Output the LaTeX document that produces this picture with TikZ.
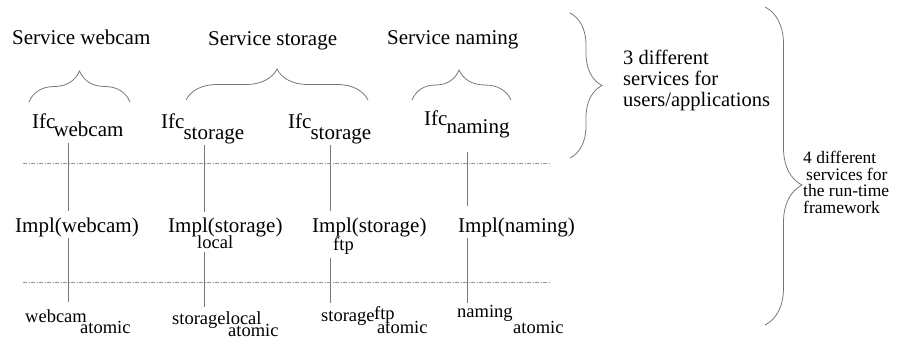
\documentclass[tikz,border=0pt]{standalone}
\usepackage{fontspec}
\setmainfont{Liberation Serif}
\usetikzlibrary{decorations.pathreplacing}
\definecolor{linegray}{RGB}{120,120,120}
\definecolor{dashgray}{RGB}{150,150,150}
\tikzset{
  lbl/.style={anchor=base west, inner sep=0pt, text=black, font=\fontsize{21}{25}\selectfont},
  small/.style={anchor=base west, inner sep=0pt, text=black, font=\fontsize{18.5}{22}\selectfont},
  side/.style={anchor=base west, inner sep=0pt, text=black, align=left},
  vline/.style={draw=linegray, line width=0.8pt},
  sep/.style={draw=dashgray, line width=0.8pt, dash pattern=on 4pt off 1.5pt on 1pt off 1.5pt},
  brc/.style={draw=linegray, line width=0.8pt, decorate, decoration={brace, amplitude=#1}},
}
\begin{document}
\begin{tikzpicture}[x=1pt, y=-1pt]
\useasboundingbox (0,0) rectangle (917,341);
% service titles
\node[lbl] (sW) at (12,44) {Service webcam};
\node[lbl] (sS) at (208,45) {Service storage};
\node[lbl] (sN) at (387,44) {Service naming};
% small braces
\draw[brc=31pt] (29,102) -- (130,102);
\draw[brc=31pt] (186,100) -- (368,100);
\draw[brc=30pt, decoration={aspect=0.475}] (412,100) -- (511,100);
% interfaces
\node[lbl] (ifcW) at (32,128) {Ifc\kern-2pt\lower8pt\hbox{webcam}};
\node[lbl] (ifcS1) at (161,128) {Ifc\kern-1pt\lower11pt\hbox{storage}};
\node[lbl] (ifcS2) at (288,128) {Ifc\kern-1pt\lower11pt\hbox{storage}};
\node[lbl] (ifcN) at (424,125) {Ifc\kern-1pt\lower8pt\hbox{naming}};
% separators
\coordinate (d1a) at (23,163); \coordinate (d1b) at (550,163);
\coordinate (d2a) at (23,282); \coordinate (d2b) at (550,282);
\draw[sep] (d1a) -- (d1b);
\draw[sep] (d2a) -- (d2b);
% implementations
\node[lbl] (implW) at (15,232) {Impl(webcam)};
\node[lbl] (implS1) at (168,232) {Impl(storage)};
\node[small] (loc) at (197,248) {local};
\node[lbl] (implS2) at (312,232) {Impl(storage)};
\node[small] (ftp) at (333,250) {ftp};
\node[lbl] (implN) at (458,232) {Impl(naming)};
% atomic
\node[small] (bW) at (25,322) {webcam};
\node[small] (bWa) at (80,333) {atomic};
\node[small] (bS1) at (172,324) {storagelocal};
\node[small] (bS1a) at (228,336) {atomic};
\node[small] (bS2) at (321,321) {storage\kern-0.5pt\raisebox{2pt}{ftp}};
\node[small] (bS2a) at (377,333) {atomic};
\node[small] (bN) at (457,317) {naming};
\node[small] (bNa) at (513,333) {atomic};
% vertical lines
\coordinate (xW) at (68,0);
\coordinate (xS1) at (204,0);
\coordinate (xS2) at (330,0);
\coordinate (xN) at (467,0);
\draw[vline, shorten <=7pt, shorten >=6pt] (ifcW.south -| xW) -- (implW.north -| xW);
\draw[vline, shorten <=1.5pt, shorten >=7pt] (implW.south -| xW) -- (bW.north -| xW);
\draw[vline, shorten <=1.4pt, shorten >=5pt] (ifcS1.south -| xS1) -- (implS1.north -| xS1);
\draw[vline, shorten <=4pt, shorten >=4pt] (loc.south -| xS1) -- (bS1.north -| xS1);
\draw[vline, shorten <=1.4pt, shorten >=6pt] (ifcS2.south -| xS2) -- (implS2.north -| xS2);
\draw[vline, shorten <=4pt, shorten >=3pt] (ftp.south -| xS2) -- (bS2.north -| xS2);
\draw[vline, shorten <=14pt, shorten >=11pt] (ifcN.south -| xN) -- (implN.north -| xN);
\draw[vline, shorten <=1.5pt, shorten >=2pt] (implN.south -| xN) -- (bN.north -| xN);
% big braces
\draw[brc=32pt] (570,13) -- (570,158);
\draw[brc=37pt, decoration={aspect=0.56}] (765,7) -- (765,325);
\node[side, font=\fontsize{20.5}{21}\selectfont] (t3) at (623,106) {3 different\\services for\\users/applications};
\node[side, font=\fontsize{17.5}{16.4}\selectfont] (t4) at (803,213) {4 different\\\hspace{3pt}services for\\the run-time\\framework};
\end{tikzpicture}
\end{document}
